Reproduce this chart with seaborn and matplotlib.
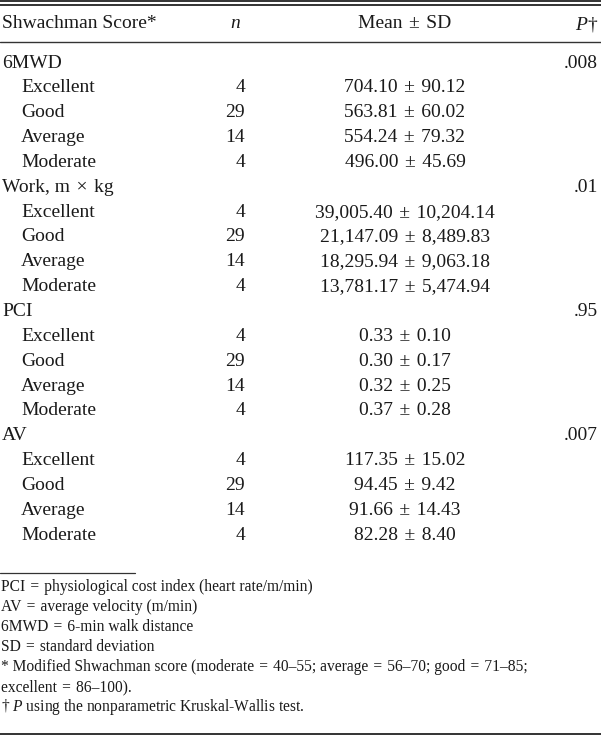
"""Tabela: Shwachman skor - 6MWD, rad, PCI i AV po grupama."""

import matplotlib
matplotlib.use("Agg")

import matplotlib.pyplot as plt
import seaborn as sns

sns.set_theme(style="white")
plt.rcParams["font.family"] = ["Liberation Serif", "DejaVu Serif"]
plt.rcParams["mathtext.fontset"] = "custom"
plt.rcParams["mathtext.rm"] = "Liberation Serif"
plt.rcParams["mathtext.it"] = "Liberation Serif:italic"

SP = "\u2004"  # malo siri razmak oko =, x i +-

# podaci
measures = ["6MWD", f"Work, m{SP}\u00d7{SP}kg", "PCI", "AV"]
levels = ["Excellent", "Good", "Average", "Moderate"]
n_counts = [4, 29, 14, 4]
means = [
    [704.10, 563.81, 554.24, 496.00],
    [39005.40, 21147.09, 18295.94, 13781.17],
    [0.33, 0.30, 0.32, 0.37],
    [117.35, 94.45, 91.66, 82.28],
]
sds = [
    [90.12, 60.02, 79.32, 45.69],
    [10204.14, 8489.83, 9063.18, 5474.94],
    [0.10, 0.17, 0.25, 0.28],
    [15.02, 9.42, 14.43, 8.40],
]
p_values = [".008", ".01", ".95", ".007"]
headers = ["Shwachman Score*", "$n$", f"Mean{SP}\u00b1{SP}SD", "$P$\u2020"]
footnotes = [
    "PCI = physiological cost index (heart rate/m/min)",
    "AV = average velocity (m/min)",
    "6MWD = 6-min walk distance",
    "SD = standard deviation",
    "* Modified Shwachman score (moderate = 40\u201355; average = 56\u201370; good = 71\u201385;",
    "excellent = 86\u2013100).",
    "\u2020 $P$ using the nonparametric Kruskal-Wallis test.",
]
footnotes = [f.replace(" = ", f"{SP}={SP}") for f in footnotes]

W, H = 601, 736
fig = plt.figure(figsize=(W / 100, H / 100), dpi=100)
ax = fig.add_axes([0, 0, 1, 1])
ax.set_xlim(0, W)
ax.set_ylim(H, 0)
ax.axis("off")

INK = "#1a1a1a"
FS = 14
FS_NOTE = 11.2
X_LABEL, X_INDENT, X_N, X_MEAN, X_P = 2, 21, 245, 405, 598

# linije
ax.axhline(1.2, color="#333333", lw=1.4)
ax.axhline(5.3, color="#333333", lw=1.4)
ax.axhline(41.7, color="#333333", lw=1.0)
ax.plot([0, 135], [572.7, 572.7], color="#333333", lw=0.9)
ax.axhline(733.5, color="#333333", lw=1.4)

# zaglavlje
hy = 24
ax.text(X_LABEL, hy, headers[0], fontsize=FS, color=INK, va="center", ha="left")
ax.text(235, hy, headers[1], fontsize=FS, color=INK, va="center", ha="center")
ax.text(X_MEAN, hy, headers[2], fontsize=FS, color=INK, va="center", ha="center")
ax.text(X_P, hy, headers[3], fontsize=FS, color=INK, va="center", ha="right")

# redovi
y0, step = 63, 24.85
row = 0
for m, name in enumerate(measures):
    y = y0 + row * step
    ax.text(X_LABEL, y, name, fontsize=FS, color=INK, va="center", ha="left")
    ax.text(X_P, y, p_values[m], fontsize=FS, color=INK, va="center", ha="right")
    row += 1
    for k, lev in enumerate(levels):
        y = y0 + row * step
        ax.text(X_INDENT, y, lev, fontsize=FS, color=INK, va="center", ha="left")
        ax.text(X_N, y, str(n_counts[k]), fontsize=FS, color=INK,
                va="center", ha="right")
        txt = f"{means[m][k]:,.2f}{SP}\u00b1{SP}{sds[m][k]:,.2f}"
        ax.text(X_MEAN, y, txt, fontsize=FS, color=INK, va="center", ha="center")
        row += 1

# fusnote
for i, note in enumerate(footnotes):
    ax.text(1, 586.7 + i * 20.1, note, fontsize=FS_NOTE, color=INK,
            va="center", ha="left")

fig.savefig("out.png", dpi=100)
